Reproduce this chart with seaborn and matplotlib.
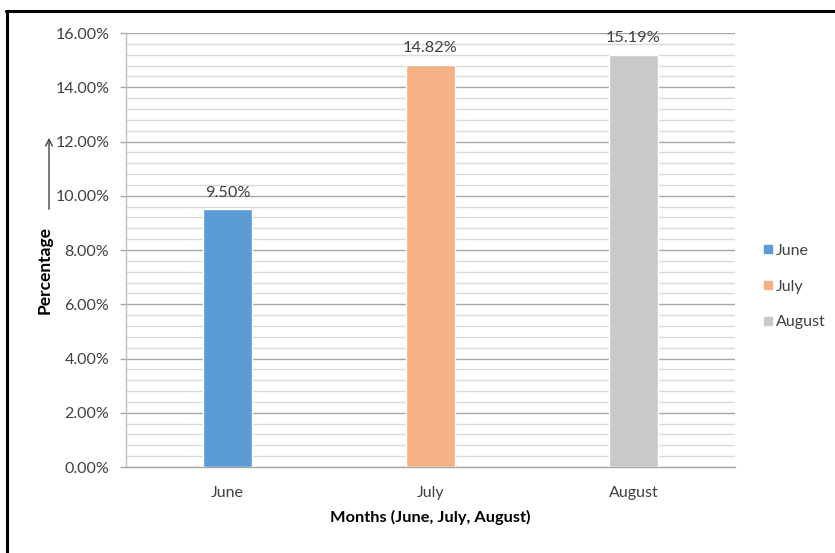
import matplotlib
matplotlib.use("Agg")
import matplotlib.pyplot as plt
from matplotlib.ticker import MultipleLocator, FuncFormatter
from matplotlib.lines import Line2D
from matplotlib.patches import FancyArrowPatch
import seaborn as sns
import pandas as pd

months = ["June", "July", "August"]
percentages = [9.50, 14.82, 15.19]
colors = ["#5B9BD5", "#F4B183", "#C9C9C9"]

df = pd.DataFrame({"month": months, "pct": [p / 100 for p in percentages]})

sns.set_theme(style="white")
plt.rcParams["font.family"] = ["Lato", "DejaVu Sans"]
text_color = "#404040"

fig = plt.figure(figsize=(8.35, 5.53), dpi=100)
ax = fig.add_axes([0.1509, 0.1555, 0.7293, 0.7848])

sns.barplot(data=df, x="month", y="pct", hue="month", palette=colors,
            width=0.246, saturation=1, legend=False, ax=ax, zorder=3)

ax.set_xlim(-0.5, 2.5)
ax.set_ylim(0, 0.16)
ax.yaxis.set_major_locator(MultipleLocator(0.02))
ax.yaxis.set_minor_locator(MultipleLocator(0.004))
ax.yaxis.set_major_formatter(FuncFormatter(lambda v, _: f"{v * 100:.2f}%"))
ax.grid(which="major", axis="y", color="#a6a6a6", linewidth=1.0, zorder=0)
ax.grid(which="minor", axis="y", color="#d9d9d9", linewidth=1.0, zorder=0)
ax.set_axisbelow(True)

for side in ["top", "right"]:
    ax.spines[side].set_visible(False)
ax.spines["left"].set_color("#bfbfbf")
ax.spines["bottom"].set_color("#a6a6a6")
ax.spines["left"].set_linewidth(1.0)
ax.spines["bottom"].set_linewidth(1.0)

ax.tick_params(axis="y", which="major", length=4, width=1, color="#a6a6a6",
               labelsize=11.5, labelcolor=text_color, pad=8, left=True)
ax.tick_params(axis="y", which="minor", length=0)
ax.tick_params(axis="x", length=0, labelsize=11.5, labelcolor=text_color, pad=14)

for container in ax.containers:
    ax.bar_label(container, labels=[f"{v * 100:.2f}%" for v in container.datavalues],
                 padding=7, fontsize=11.8, color=text_color)

ax.set_xlabel("Months (June, July, August)", fontsize=11.8, fontweight="bold",
              color="black", labelpad=7)
ax.set_ylabel("")
fig.text(0.054, 0.512, "Percentage", rotation=90, ha="center", va="center",
         fontsize=12.5, fontweight="bold", color="black")

fig.add_artist(FancyArrowPatch((0.0587, 0.6166), (0.0587, 0.7559),
                               transform=fig.transFigure, arrowstyle="->",
                               mutation_scale=12, color="#404040", linewidth=1.0))

handles = [Line2D([0], [0], marker="s", linestyle="", markersize=5.8,
                  markerfacecolor=c, markeredgecolor=c) for c in colors]
fig.legend(handles, months, loc="center left", bbox_to_anchor=(0.894, 0.482),
           frameon=False, fontsize=11.5, handletextpad=0.05, labelspacing=1.35,
           handlelength=0.9, labelcolor=text_color)

fig.add_artist(Line2D([0.007, 1.0], [0.981, 0.981], transform=fig.transFigure,
                      color="black", linewidth=2.2))
fig.add_artist(Line2D([0.0078, 0.0078], [0.0, 0.981], transform=fig.transFigure,
                      color="black", linewidth=2.2))

fig.savefig("out.png", dpi=100, facecolor="white")
